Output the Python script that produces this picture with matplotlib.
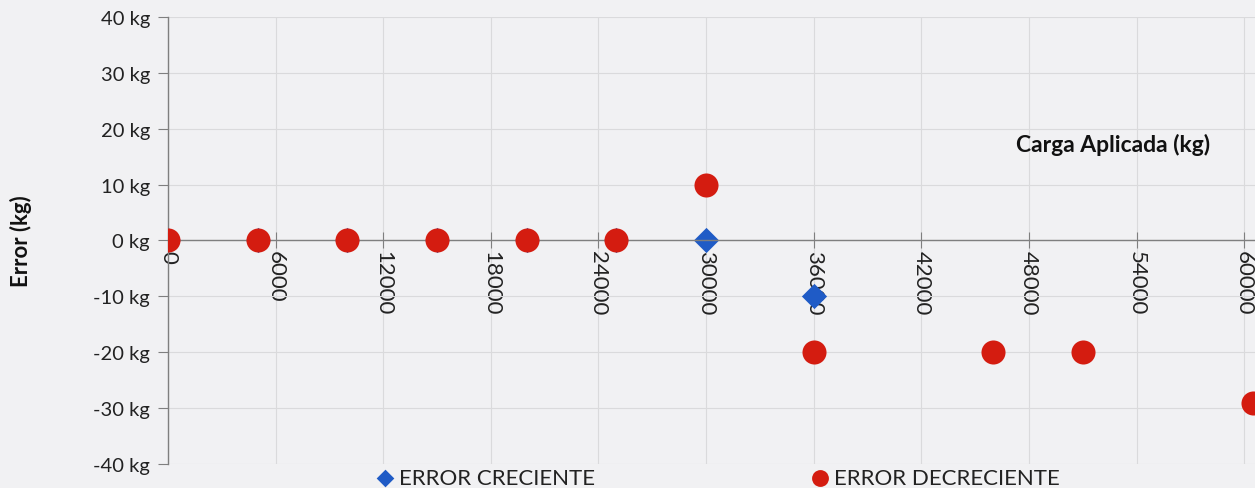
import matplotlib
matplotlib.use("Agg")
import matplotlib.pyplot as plt
from matplotlib.ticker import FixedLocator, FuncFormatter

plt.rcParams['font.family'] = ['Lato', 'DejaVu Sans']

# Data
carga_creciente = [0, 5000, 10000, 15000, 20000, 25000, 30000, 36000]
error_creciente = [0, 0, 0, 0, 0, 0, 0, -10]

carga_decreciente = [0, 5000, 10000, 15000, 20000, 25000, 30000, 36000, 46000, 51000, 60500]
error_decreciente = [0, 0, 0, 0, 0, 0, 10, -20, -20, -20, -29]

x_ticks = [0, 6000, 12000, 18000, 24000, 30000, 36000, 42000, 48000, 54000, 60000]
y_ticks = [-40, -30, -20, -10, 0, 10, 20, 30, 40]

bg = '#f1f1f3'
fig = plt.figure(figsize=(12.55, 4.89), dpi=100, facecolor=bg)
ax = fig.add_axes([168/1255, 1-465/489, 1-168/1255, (465-18)/489])
ax.set_facecolor(bg)

ax.scatter(carga_creciente, error_creciente, marker='D', s=165, color='#1f5bc6',
           zorder=2, label='ERROR CRECIENTE', linewidths=0)
ax.scatter(carga_decreciente, error_decreciente, marker='o', s=300, color='#d41c10',
           zorder=3, label='ERROR DECRECIENTE', linewidths=0)

ax.set_xlim(0, 60600)
ax.set_ylim(-40, 40)
ax.xaxis.set_major_locator(FixedLocator(x_ticks))
ax.yaxis.set_major_locator(FixedLocator(y_ticks))
ax.yaxis.set_major_formatter(FuncFormatter(lambda v, p: f"{int(v)} kg"))

ax.spines['top'].set_visible(False)
ax.spines['right'].set_visible(False)
ax.spines['bottom'].set_position(('data', 0))
for s in ('left', 'bottom'):
    ax.spines[s].set_color('#7f7f7f')
    ax.spines[s].set_linewidth(1.0)

ax.grid(True, color='#dadadc', linewidth=0.8, zorder=0)
ax.set_axisbelow(True)

ax.tick_params(axis='y', direction='out', length=7, color='#7f7f7f', labelsize=14.5,
               labelcolor='#222222', pad=6)
ax.tick_params(axis='x', direction='inout', length=12, color='#7f7f7f', labelsize=16,
               labelcolor='#222222', pad=1, labelrotation=-90)
for lab in ax.get_xticklabels():
    lab.set_verticalalignment('top')
    lab.set_horizontalalignment('center')

fig.text(21/1255, 1-241/489, 'Error (kg)', rotation=90, fontsize=16, fontweight='bold',
         ha='center', va='center', color='#111111')
fig.text(1113/1255, 1-145/489, 'Carga Aplicada (kg)', fontsize=16.5, fontweight='bold',
         ha='center', va='center', color='#111111')

leg = fig.legend(loc='center', bbox_to_anchor=(718/1255, 1-479/489), ncol=2,
                 frameon=False, fontsize=16, columnspacing=9.7, handletextpad=0.25,
                 handlelength=0.8, markerscale=0.7, borderpad=0)
for t in leg.get_texts():
    t.set_color('#222222')

fig.savefig('out.png', dpi=100, facecolor=bg)
